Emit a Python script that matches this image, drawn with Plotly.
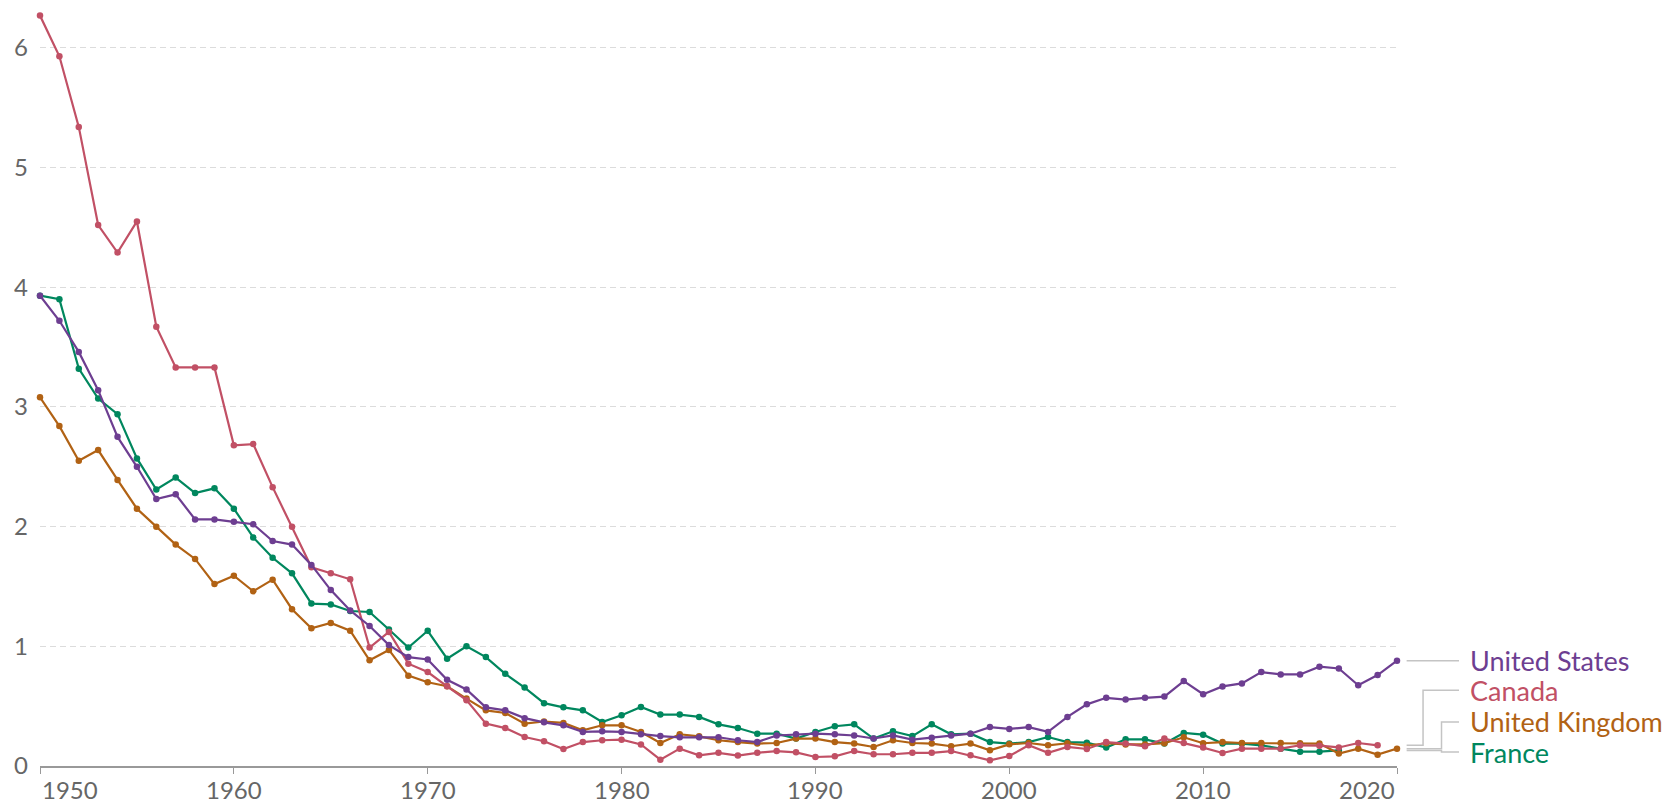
import plotly.graph_objects as go

years = list(range(1950, 2021))

united_states = [
    3.93, 3.72, 3.46, 3.14, 2.75, 2.50, 2.23, 2.27, 2.06, 2.06,
    2.04, 2.02, 1.88, 1.85, 1.68, 1.47, 1.30, 1.17, 1.01, 0.91,
    0.89, 0.72, 0.64, 0.49, 0.465, 0.40, 0.365, 0.34, 0.285, 0.29,
    0.285, 0.265, 0.25, 0.24, 0.24, 0.24, 0.215, 0.20, 0.255, 0.265,
    0.27, 0.265, 0.255, 0.23, 0.255, 0.22, 0.235, 0.255, 0.27, 0.325,
    0.31, 0.325, 0.285, 0.41, 0.515, 0.57, 0.555, 0.57, 0.58, 0.71,
    0.60, 0.665, 0.69, 0.785, 0.765, 0.765, 0.83, 0.815, 0.675, 0.76,
    0.88,
]

canada = [
    6.27, 5.93, 5.34, 4.52, 4.29, 4.55, 3.67, 3.33, 3.33, 3.33,
    2.68, 2.69, 2.33, 2.00, 1.66, 1.61, 1.56, 0.99, 1.12, 0.855,
    0.785, 0.666, 0.55, 0.354, 0.317, 0.242, 0.207, 0.142, 0.20, 0.215,
    0.22, 0.18, 0.053, 0.145, 0.089, 0.11, 0.087, 0.11, 0.125, 0.114,
    0.075, 0.081, 0.125, 0.098, 0.098, 0.11, 0.11, 0.125, 0.089, 0.048,
    0.084, 0.173, 0.11, 0.159, 0.142, 0.20, 0.187, 0.165, 0.229, 0.192,
    0.154, 0.109, 0.145, 0.145, 0.145, 0.173, 0.17, 0.155, 0.192, 0.173,
    None,
]

united_kingdom = [
    3.08, 2.84, 2.55, 2.64, 2.39, 2.15, 2.00, 1.85, 1.73, 1.52,
    1.59, 1.46, 1.557, 1.31, 1.15, 1.195, 1.13, 0.883, 0.97, 0.755,
    0.70, 0.666, 0.563, 0.465, 0.443, 0.354, 0.372, 0.36, 0.298, 0.34,
    0.34, 0.284, 0.192, 0.265, 0.248, 0.215, 0.20, 0.187, 0.192, 0.229,
    0.229, 0.20, 0.187, 0.159, 0.215, 0.192, 0.187, 0.165, 0.187, 0.131,
    0.181, 0.192, 0.173, 0.19, 0.17, 0.19, 0.18, 0.18, 0.19, 0.24,
    0.19, 0.20, 0.192, 0.192, 0.192, 0.19, 0.187, 0.104, 0.145, 0.095,
    0.145,
]

france = [
    3.93, 3.90, 3.32, 3.07, 2.94, 2.57, 2.31, 2.41, 2.28, 2.32,
    2.15, 1.91, 1.74, 1.61, 1.357, 1.35, 1.295, 1.287, 1.14, 0.99,
    1.13, 0.897, 1.00, 0.91, 0.77, 0.655, 0.525, 0.49, 0.465, 0.368,
    0.424, 0.493, 0.43, 0.43, 0.41, 0.348, 0.317, 0.27, 0.27, 0.229,
    0.284, 0.332, 0.348, 0.229, 0.29, 0.25, 0.348, 0.265, 0.27, 0.20,
    0.187, 0.20, 0.242, 0.20, 0.195, 0.154, 0.223, 0.223, 0.187, 0.276,
    0.262, 0.187, 0.187, 0.173, 0.145, 0.12, 0.12, 0.13, None, None,
    None,
]

series_names = ["France", "United Kingdom", "Canada", "United States"]
series_values = [france, united_kingdom, canada, united_states]
series_colors = ["#00875E", "#B16214", "#C15065", "#6D3E91"]

x_tick_years = [1950, 1960, 1970, 1980, 1990, 2000, 2010, 2020]
y_tick_values = [0, 1, 2, 3, 4, 5, 6]

# label placement (value units on y axis) for the right-hand labels
label_y = {"United States": None, "Canada": 0.632, "United Kingdom": 0.368, "France": 0.117}
elbow_x = {"United States": 1.0457, "Canada": 1.0192, "United Kingdom": 1.0328, "France": 1.0328}

FONT = "Lato, 'Open Sans', sans-serif"

fig = go.Figure()
for name, vals, col in zip(series_names, series_values, series_colors):
    fig.add_trace(go.Scatter(
        x=years, y=vals, name=name, mode="lines+markers",
        line=dict(color=col, width=2.2),
        marker=dict(color=col, size=6.5),
        cliponaxis=False, connectgaps=False,
    ))

annotations = []
shapes = []
for name, vals, col in zip(series_names, series_values, series_colors):
    last = [v for v in vals if v is not None][-1]
    ly = label_y[name] if label_y[name] is not None else last
    ex = elbow_x[name]
    if name == "United States":
        shapes.append(dict(type="line", xref="paper", yref="y", x0=1.0071, x1=1.0457,
                           y0=last, y1=last, line=dict(color="#c4c4c4", width=1.5)))
    else:
        shapes.append(dict(type="path", xref="paper", yref="y",
                           path=f"M 1.0071,{last} L {ex},{last} L {ex},{ly} L 1.0457,{ly}",
                           line=dict(color="#c4c4c4", width=1.5)))
    annotations.append(dict(xref="paper", yref="y", x=1.0523, y=ly, xanchor="left",
                            yanchor="middle", text=name, showarrow=False,
                            font=dict(family=FONT, size=27, color=col)))

for yr in x_tick_years:
    anchor = "center"
    if yr == x_tick_years[0]:
        anchor = "left"
    elif yr == x_tick_years[-1]:
        anchor = "right"
    annotations.append(dict(xref="x", yref="paper", x=yr, y=0, yshift=-23,
                            xanchor=anchor, yanchor="middle", text=str(yr), showarrow=False,
                            font=dict(family=FONT, size=24, color="#666666")))

fig.update_layout(
    width=1665, height=806, autosize=False,
    margin=dict(l=40, r=268, t=6, b=40),
    paper_bgcolor="white", plot_bgcolor="white",
    showlegend=False,
    font=dict(family=FONT, size=24, color="#666666"),
    annotations=annotations, shapes=shapes,
    xaxis=dict(range=[1950, 2020], showgrid=False, zeroline=False,
               showline=True, linecolor="#999999", linewidth=1.5,
               ticks="outside", ticklen=6, tickcolor="#999999",
               tickvals=x_tick_years, showticklabels=False, fixedrange=True),
    yaxis=dict(range=[0, 6.35], tickvals=y_tick_values, showgrid=True,
               gridcolor="#dcdcdc", griddash="6px,4px", gridwidth=1,
               zeroline=False, showline=False, ticks="",
               ticklabelstandoff=11,
               tickfont=dict(family=FONT, size=24, color="#666666"),
               fixedrange=True),
)

fig.write_html("out.html", config={"displayModeBar": False},
               post_script="document.body.style.margin='0';document.body.style.overflow='hidden';")
